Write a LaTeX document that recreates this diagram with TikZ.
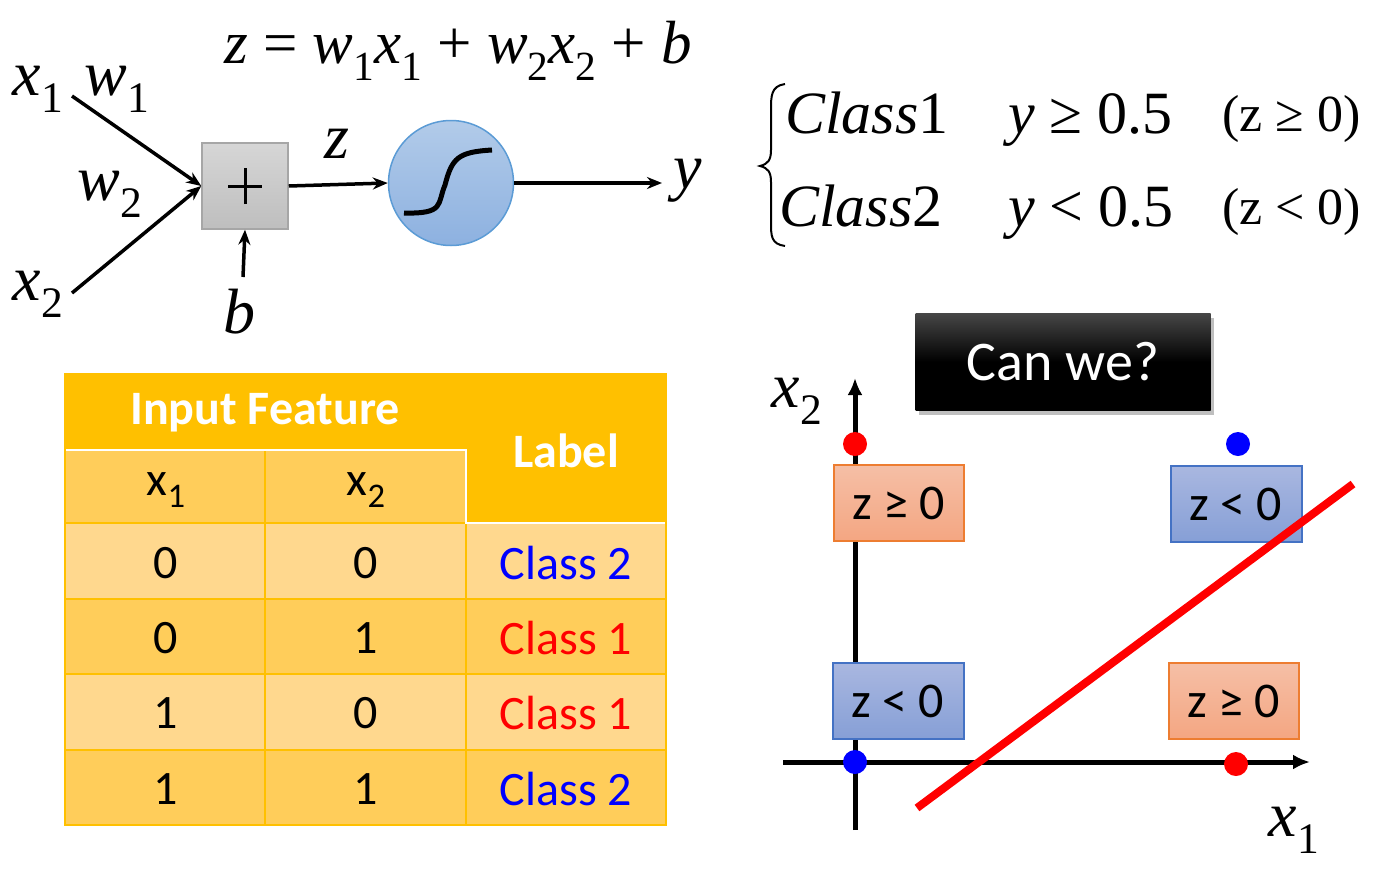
\documentclass[tikz,border=0pt]{standalone}
\usepackage{graphicx}
\usepackage{fontspec}
\setmainfont{Liberation Serif}
\newfontfamily\tnr{Liberation Serif}
\newfontfamily\calfont{Carlito}
\usetikzlibrary{arrows.meta,shadows}
\definecolor{hdr}{HTML}{FFC000}
\definecolor{rowlight}{HTML}{FFD88E}
\definecolor{rowdark}{HTML}{FFCD5A}
\definecolor{grid}{HTML}{FFC000}
\definecolor{orfillA}{HTML}{F5BFA6}
\definecolor{orfillB}{HTML}{F4A682}
\definecolor{ordraw}{HTML}{ED7D31}
\definecolor{blfillA}{HTML}{A9B7E0}
\definecolor{blfillB}{HTML}{869FD6}
\definecolor{bldraw}{HTML}{4472C4}
\definecolor{sigA}{HTML}{B2CBE9}
\definecolor{sigB}{HTML}{8DB1E0}
\definecolor{sigdraw}{HTML}{5B9BD5}
\newcommand\lsub[1]{\raisebox{-0.28em}{\scalebox{0.68}{\upshape #1}}}
\newcommand\csub[1]{\raisebox{-0.25em}{\scalebox{0.72}{#1}}}
\tikzset{
  arr/.style={line width=3.5pt,-{Stealth[length=15pt,width=12pt]}},
  mathlbl/.style={font=\tnr\fontsize{64}{70}\selectfont\itshape,inner sep=0pt},
  cell/.style={font=\calfont\fontsize{48}{54}\selectfont,inner sep=0pt},
  hcell/.style={font=\calfont\bfseries\fontsize{48}{54}\selectfont,text=white,inner sep=0pt},
  orbox/.style={draw=ordraw,line width=2pt,top color=orfillA,bottom color=orfillB,minimum width=130pt,minimum height=76pt,font=\calfont\fontsize{50}{56}\selectfont,inner sep=0pt},
  blbox/.style={draw=bldraw,line width=2pt,top color=blfillA,bottom color=blfillB,minimum width=131pt,minimum height=76pt,font=\calfont\fontsize{50}{56}\selectfont,inner sep=0pt},
  dotr/.style={circle,fill=red,minimum size=24pt,inner sep=0pt},
  dotb/.style={circle,fill=blue,minimum size=24pt,inner sep=0pt},
  axis/.style={line width=5pt,-{Latex[length=17pt,width=15pt]}},
  tnrbig/.style={font=\tnr\fontsize{60}{70}\selectfont,inner sep=0pt,anchor=base west},
  tnrmid/.style={font=\tnr\fontsize{52}{60}\selectfont,inner sep=0pt,anchor=base west},
}
\begin{document}
\begin{tikzpicture}[x=1pt,y=-1pt]
\useasboundingbox (0,0) rectangle (1393,868);
% ---------- neuron ----------
\node[font=\tnr\fontsize{61}{70}\selectfont,inner sep=0pt,anchor=base] (eq) at (458,63)
  {\textit{z} = \textit{w}\lsub{1}\textit{x}\lsub{1} + \textit{w}\lsub{2}\textit{x}\lsub{2} + \textit{b}};
\node[mathlbl,anchor=base] (x1) at (38,95) {x\lsub{1}};
\node[mathlbl,anchor=base] (w1) at (117,95) {w\lsub{1}};
\node[mathlbl,anchor=base] (w2) at (110,200) {w\lsub{2}};
\node[mathlbl,anchor=base] (x2) at (38,300) {x\lsub{2}};
\node[draw={rgb,255:red,166;green,166;blue,166},line width=1.5pt,top color={rgb,255:red,214;green,214;blue,214},bottom color={rgb,255:red,190;green,190;blue,190},minimum width=86pt,minimum height=86pt,inner sep=0pt] (sum) at (245,186) {};
\draw[line width=3pt] ([xshift=-17pt]sum.center) -- ([xshift=17pt]sum.center)
  ([yshift=-18pt]sum.center) -- ([yshift=18pt]sum.center);
\coordinate (x1e) at (72,96);
\coordinate (x2e) at (72,293);
\draw[arr] (x1e) -- (sum.west);
\draw[arr] (x2e) -- (sum.west);
\node[mathlbl,anchor=base] (b) at (239,333) {b};
\coordinate (be) at (243,277);
\draw[arr] (be) -- (sum.south);
\node[circle,draw=sigdraw,line width=1.5pt,top color=sigA,bottom color=sigB,minimum size=125pt,inner sep=0pt] (sig) at (451,183) {};
\draw[arr] (sum.east) -- (sig.west);
\node[mathlbl,anchor=base] (z) at (337,158) {z};
\coordinate (ye) at (662,183);
\draw[arr] (sig.east) -- (ye);
\node[mathlbl,anchor=base] (y) at (688,188) {y};
\draw[line width=5pt] (404,213) .. controls (445,214) and (437,204) .. (445,185)
  .. controls (452,158) and (458,152) .. (492,150);
% ---------- cases ----------
\draw[line width=2pt] (785,84) .. controls (771,86) and (771,96) .. (771,110)
  -- (771,150) .. controls (771,160) and (768,164) .. (760,166)
  .. controls (768,168) and (771,172) .. (771,182) -- (771,222)
  .. controls (771,236) and (771,244) .. (785,246);
\node[tnrbig] (c1) at (785,133) {\textit{Class}1};
\node[tnrbig] (c2) at (779,226) {\textit{Class}2};
\node[tnrbig] (r1) at (1008,133) {\textit{y} ≥ 0.5};
\node[tnrbig] (r2) at (1008,226) {\textit{y} < 0.5};
\node[tnrmid] (p1) at (1222,131) {(z ≥ 0)};
\node[tnrmid] (p2) at (1222,224) {(z < 0)};
% ---------- table ----------
\fill[hdr] (65,374) rectangle (666,523);
\fill[rowdark] (65,450) rectangle (466,523);
\fill[rowlight] (65,523) rectangle (666,599);
\fill[rowdark] (65,599) rectangle (666,674);
\fill[rowlight] (65,674) rectangle (666,750);
\fill[rowdark] (65,750) rectangle (666,825);
\draw[grid,line width=2pt] (65,374) rectangle (666,825);
\foreach \yy in {599,674,750} \draw[grid,line width=2pt] (65,\yy) -- (666,\yy);
\draw[grid,line width=2pt] (65,523) -- (466,523);
\draw[grid,line width=2pt] (265,450) -- (265,825);
\draw[grid,line width=2pt] (466,523) -- (466,825);
\draw[white,line width=2pt] (66,450) -- (466,450) -- (466,523) -- (665,523);
\node[hcell] (hif) at (265,413) {Input Feature};
\node[hcell] (hlab) at (566,451) {Label};
\node[cell] (hx1) at (166,490) {x\csub{1}};
\node[cell] (hx2) at (366,490) {x\csub{2}};
\node[cell] (a1) at (166,563) {0};
\node[cell] (b1) at (366,563) {0};
\node[cell,text=blue] (l1) at (566,563) {Class 2};
\node[cell] (a2) at (166,638) {0};
\node[cell] (b2) at (366,638) {1};
\node[cell,text=red] (l2) at (566,638) {Class 1};
\node[cell] (a3) at (166,713) {1};
\node[cell] (b3) at (366,713) {0};
\node[cell,text=red] (l3) at (566,713) {Class 1};
\node[cell] (a4) at (166,789) {1};
\node[cell] (b4) at (366,789) {1};
\node[cell,text=blue] (l4) at (566,789) {Class 2};
% ---------- plot ----------
\coordinate (yb) at (855,830);
\coordinate (yt) at (855,378);
\coordinate (xl) at (783,762);
\coordinate (xr) at (1310,762);
\draw[axis] (yb) -- (yt);
\draw[axis] (xl) -- (xr);
\node[mathlbl,anchor=base] (lx2) at (797,407) {x\lsub{2}};
\node[mathlbl,anchor=base] (lx1) at (1294,836) {x\lsub{1}};
\node[orbox] (q1) at (899,503) {z ≥ 0};
\node[blbox] (q2) at (1236,504) {z < 0};
\node[blbox] (q3) at (898,701) {z < 0};
\node[orbox] (q4) at (1234,701) {z ≥ 0};
\node[dotr] (d01) at (855,444) {};
\node[dotb] (d11) at (1238,444) {};
\node[dotb] (d00) at (855,762) {};
\node[dotr] (d10) at (1236,764) {};
\coordinate (la) at (917,808);
\coordinate (lb) at (1353,484);
\draw[red,line width=8pt] (la) -- (lb);
\node[top color={rgb,255:red,70;green,70;blue,70},bottom color=black,middle color=black,shading angle=0,minimum width=295pt,minimum height=97pt,inner sep=0pt,
  drop shadow={shadow xshift=3pt,shadow yshift=-4pt,opacity=0.5},
  font=\calfont\fontsize{56}{62}\selectfont,text=white] (can) at (1063,362) {Can we?};
\end{tikzpicture}
\end{document}
